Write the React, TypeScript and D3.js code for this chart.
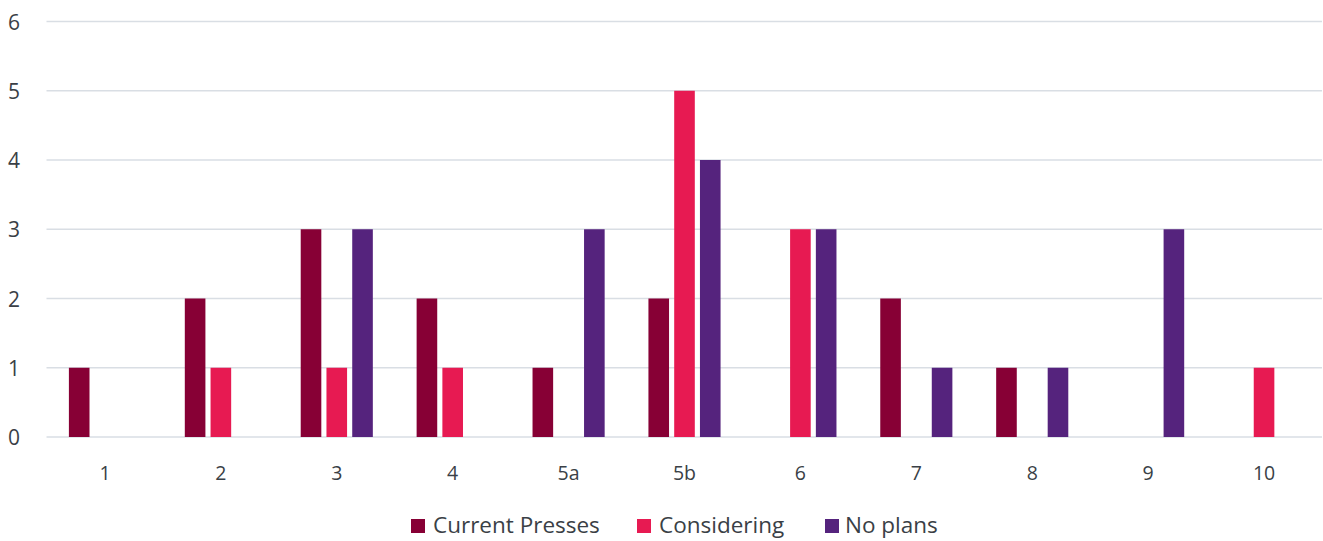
import React from "react";
import * as d3 from "d3";

const categories = ["1", "2", "3", "4", "5a", "5b", "6", "7", "8", "9", "10"];
const seriesNames = ["Current Presses", "Considering", "No plans"];
const currentPresses = [1, 2, 3, 2, 1, 2, 0, 2, 1, 0, 0];
const considering = [0, 1, 1, 1, 0, 5, 3, 0, 0, 0, 1];
const noPlans = [0, 0, 3, 0, 3, 4, 3, 1, 1, 3, 0];
const seriesColors = ["#870035", "#E71A52", "#55237D"];
const yTicks = [0, 1, 2, 3, 4, 5, 6];

const W = 1323;
const H = 541;
const FONT = "'Open Sans', sans-serif";
const TEXT = "#3a3f46";

export default function App() {
  const values = [currentPresses, considering, noPlans];
  const x = d3.scaleBand<string>().domain(categories).range([47, 1322]).paddingInner(0).paddingOuter(0);
  const xs = d3
    .scaleBand<string>()
    .domain(seriesNames)
    .range([0, x.bandwidth()])
    .paddingInner(0.2)
    .paddingOuter(0.85);
  const y = d3.scaleLinear().domain([0, 6]).range([437, 21.5]);

  const legendItems = [
    { name: seriesNames[0], sx: 411, tx: 433 },
    { name: seriesNames[1], sx: 637, tx: 659 },
    { name: seriesNames[2], sx: 825, tx: 845 },
  ];

  return (
    <svg
      width={W}
      height={H}
      style={{ position: "absolute", left: 0, top: 0, background: "#fff" }}
      fontFamily={FONT}
    >
      {yTicks.map((t) => (
        <g key={t}>
          <line x1={46.5} x2={1322} y1={y(t)} y2={y(t)} stroke="#d9dee4" strokeWidth={1.5} />
          <text x={14} y={y(t)} fill={TEXT} fontSize={21} textAnchor="middle" dominantBaseline="central">
            {t}
          </text>
        </g>
      ))}
      {categories.map((c, i) => (
        <g key={c}>
          {values.map((vals, s) =>
            vals[i] > 0 ? (
              <rect
                key={s}
                x={(x(c) as number) + (xs(seriesNames[s]) as number)}
                width={xs.bandwidth()}
                y={y(vals[i])}
                height={y(0) - y(vals[i])}
                fill={seriesColors[s]}
              />
            ) : null
          )}
          <text
            x={(x(c) as number) + x.bandwidth() / 2}
            y={472}
            fill={TEXT}
            fontSize={19.5}
            textAnchor="middle"
            dominantBaseline="central"
          >
            {c}
          </text>
        </g>
      ))}
      {legendItems.map((l, i) => (
        <g key={l.name}>
          <rect x={l.sx} y={519} width={14} height={14} fill={seriesColors[i]} />
          <text x={l.tx} y={524} fill={TEXT} fontSize={22.5} dominantBaseline="central">
            {l.name}
          </text>
        </g>
      ))}
    </svg>
  );
}
